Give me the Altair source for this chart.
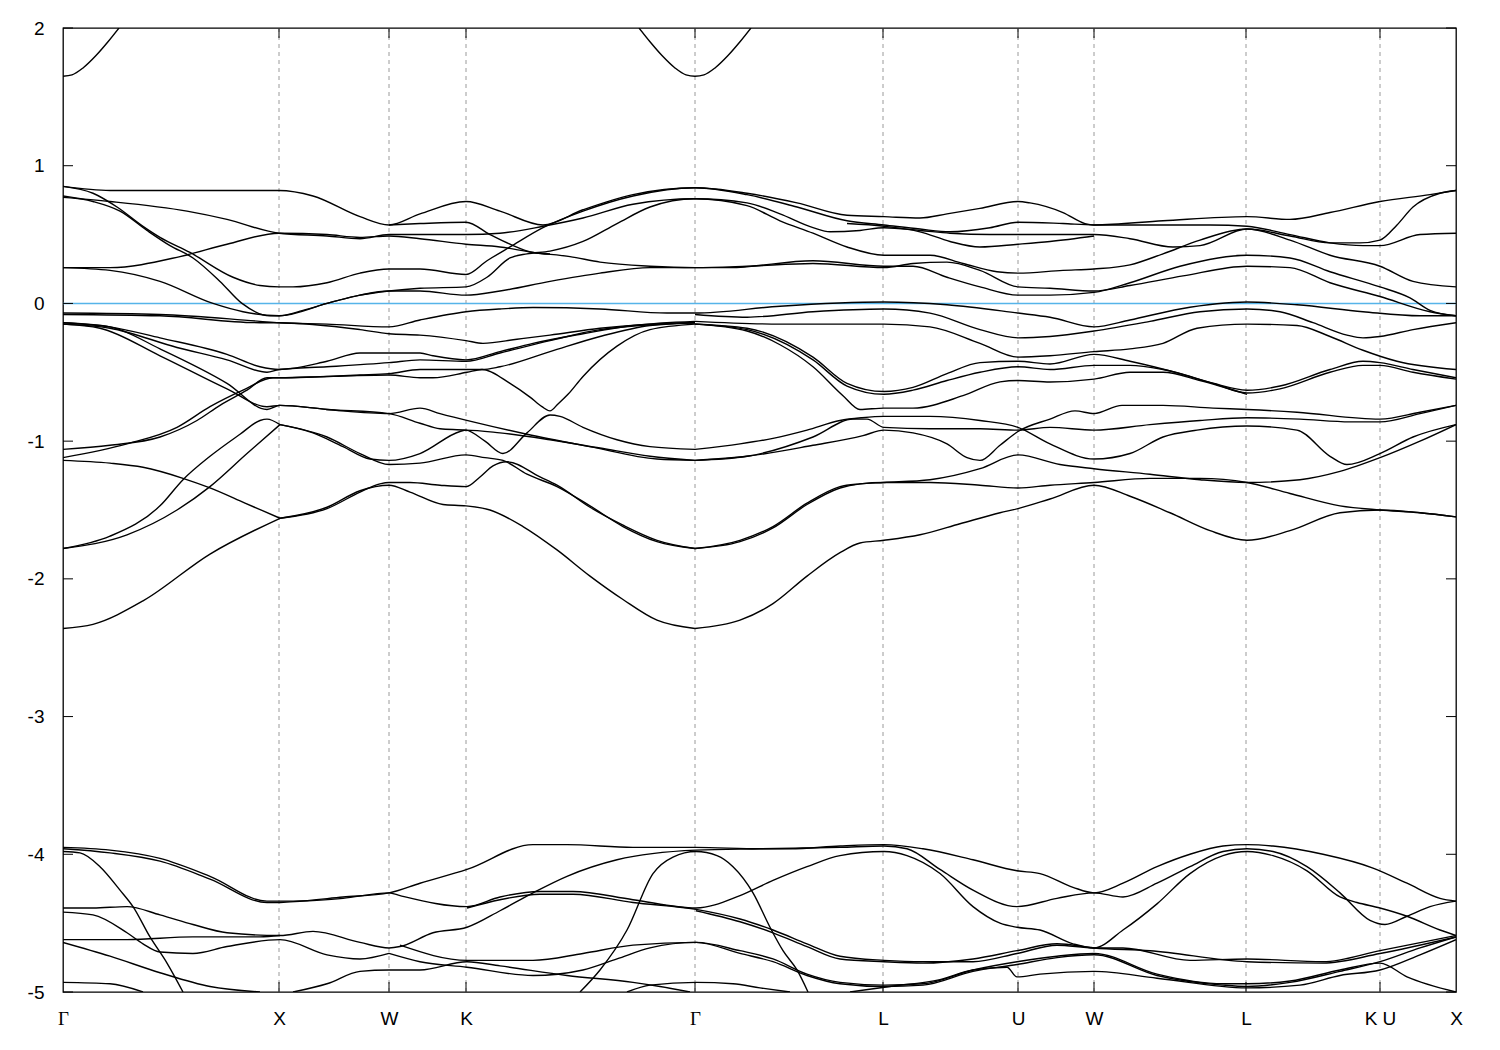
import altair as alt
import pandas as pd

# ---- high-symmetry points along the k path (path coordinate, arbitrary units) ----
tick_k = [63, 279, 389, 466, 695, 883, 1018, 1094, 1246, 1380, 1456]
tick_names = ["Γ", "X", "W", "K", "Γ", "L", "U", "W", "L", "K U", "X"]
energy_ticks = [-5, -4, -3, -2, -1, 0, 1, 2]

# ---- bands: (k, E [eV]) ----
cond_a = [(63, 1.65), (72, 1.66), (83, 1.71), (96, 1.80), (108, 1.90), (119, 2.0)]
cond_b = [(639, 2.0), (650, 1.90), (662, 1.80), (675, 1.71), (686, 1.66), (695, 1.65),
          (704, 1.66), (715, 1.71), (728, 1.80), (740, 1.90), (751, 2.0)]

u1 = [(63, 0.85), (110, 0.82), (279, 0.82), (313, 0.78), (360, 0.63), (389, 0.57), (420, 0.65),
      (466, 0.74), (500, 0.67), (543, 0.57), (583, 0.68), (633, 0.79), (695, 0.84), (747, 0.80),
      (797, 0.73), (847, 0.64), (884, 0.63), (920, 0.62), (947, 0.65), (980, 0.69), (1018, 0.74),
      (1030, 0.73), (1063, 0.66), (1085, 0.58), (1094, 0.57), (1163, 0.60), (1247, 0.63),
      (1290, 0.61), (1330, 0.66), (1380, 0.74), (1430, 0.79), (1456, 0.82)]
u2 = [(63, 0.85), (93, 0.80), (117, 0.70), (143, 0.56), (160, 0.48), (190, 0.37), (233, 0.19),
      (260, 0.13), (279, 0.12), (293, 0.12), (327, 0.15), (360, 0.22), (389, 0.25), (420, 0.25),
      (466, 0.21), (487, 0.31), (510, 0.41), (543, 0.55), (583, 0.67), (633, 0.78), (695, 0.84),
      (747, 0.79), (797, 0.70), (847, 0.60), (884, 0.57), (920, 0.54), (950, 0.52), (990, 0.55),
      (1018, 0.59), (1063, 0.58), (1094, 0.57), (1163, 0.57), (1210, 0.57), (1247, 0.56),
      (1290, 0.50), (1330, 0.44), (1363, 0.42), (1380, 0.42), (1420, 0.50), (1456, 0.51)]
u3 = [(63, 0.77), (110, 0.74), (187, 0.67), (227, 0.61), (279, 0.51), (327, 0.49), (360, 0.47),
      (389, 0.50), (420, 0.50), (466, 0.50), (500, 0.51), (543, 0.56), (583, 0.62), (633, 0.72),
      (695, 0.76), (747, 0.73), (780, 0.65), (813, 0.55), (830, 0.52), (860, 0.53), (884, 0.55),
      (920, 0.53), (950, 0.51), (990, 0.50), (1018, 0.50), (1060, 0.50), (1094, 0.50),
      (1130, 0.47), (1173, 0.41), (1200, 0.42), (1247, 0.54), (1290, 0.49), (1330, 0.44),
      (1360, 0.44), (1380, 0.46), (1397, 0.57), (1413, 0.70), (1440, 0.80), (1456, 0.82)]
u4 = [(63, 0.78), (93, 0.74), (120, 0.67), (147, 0.53), (170, 0.42), (193, 0.33), (220, 0.16),
      (242, 0.0), (270, -0.09), (279, -0.09), (303, -0.05), (327, 0.0), (360, 0.06), (389, 0.09),
      (420, 0.11), (466, 0.12), (487, 0.19), (510, 0.33), (527, 0.36), (550, 0.38), (583, 0.45),
      (617, 0.58), (650, 0.70), (695, 0.76), (747, 0.71), (780, 0.60), (813, 0.51), (847, 0.41),
      (884, 0.35), (930, 0.35), (963, 0.29), (997, 0.23), (1018, 0.22), (1063, 0.24),
      (1094, 0.25), (1130, 0.28), (1163, 0.36), (1200, 0.46), (1247, 0.54), (1290, 0.46),
      (1330, 0.35), (1380, 0.27), (1413, 0.16), (1456, 0.12)]
u5 = [(63, 0.26), (110, 0.26), (180, 0.34), (227, 0.43), (279, 0.51), (327, 0.50), (360, 0.48),
      (389, 0.49), (420, 0.47), (466, 0.43), (500, 0.41), (533, 0.37), (570, 0.34), (600, 0.30),
      (650, 0.27), (695, 0.26), (730, 0.26), (813, 0.31), (884, 0.27), (913, 0.27), (947, 0.19),
      (980, 0.12), (1018, 0.06), (1050, 0.06), (1094, 0.08), (1130, 0.15), (1180, 0.27),
      (1247, 0.35), (1290, 0.33), (1330, 0.23), (1380, 0.12), (1410, 0.04), (1430, -0.05),
      (1456, -0.09)]
u6 = [(63, 0.26), (110, 0.24), (160, 0.16), (213, 0.0), (243, -0.06), (279, -0.09), (327, 0.0),
      (360, 0.06), (389, 0.09), (420, 0.09), (466, 0.06), (500, 0.09), (550, 0.16), (600, 0.22),
      (650, 0.26), (695, 0.26), (747, 0.27), (813, 0.29), (884, 0.26), (913, 0.29), (947, 0.30),
      (980, 0.24), (1018, 0.12), (1050, 0.11), (1094, 0.09), (1130, 0.13), (1183, 0.20),
      (1247, 0.27), (1290, 0.26), (1330, 0.15), (1380, 0.05), (1430, -0.06), (1456, -0.09)]
u7 = [(389, 0.57), (420, 0.58), (466, 0.59), (490, 0.50), (510, 0.43), (533, 0.37), (550, 0.36)]
u8 = [(847, 0.58), (884, 0.56), (920, 0.52), (950, 0.45), (980, 0.41), (1018, 0.43),
      (1050, 0.45), (1094, 0.49)]

v1 = [(63, -0.07), (160, -0.08), (260, -0.13), (279, -0.14), (327, -0.15), (389, -0.17),
      (420, -0.12), (466, -0.06), (500, -0.04), (533, -0.03), (600, -0.04), (667, -0.07),
      (695, -0.07), (780, -0.02), (884, 0.01), (947, -0.01), (1018, -0.07), (1050, -0.10),
      (1094, -0.17), (1130, -0.12), (1180, -0.04), (1247, 0.01), (1297, -0.01), (1363, -0.06),
      (1420, -0.09), (1456, -0.09)]
v2 = [(63, -0.08), (160, -0.09), (260, -0.14), (279, -0.14), (360, -0.19), (389, -0.22),
      (420, -0.23), (466, -0.27), (483, -0.29), (517, -0.26), (550, -0.23), (600, -0.18),
      (650, -0.15), (695, -0.14)]
vb = [(695, -0.08), (747, -0.10), (813, -0.06), (884, -0.04), (930, -0.07), (980, -0.19),
      (1018, -0.25), (1050, -0.24), (1094, -0.20), (1150, -0.13), (1200, -0.06), (1247, -0.04),
      (1280, -0.06), (1313, -0.14), (1347, -0.23), (1363, -0.25), (1380, -0.24), (1413, -0.19),
      (1456, -0.14)]
vc = [(695, -0.13), (780, -0.15), (884, -0.15), (930, -0.17), (980, -0.29), (1018, -0.39),
      (1050, -0.38), (1094, -0.35), (1130, -0.33), (1163, -0.29), (1197, -0.18), (1247, -0.15),
      (1297, -0.16), (1330, -0.24), (1363, -0.34), (1397, -0.42), (1456, -0.48)]
vd = [(695, -0.15), (747, -0.18), (813, -0.39), (847, -0.58), (884, -0.64), (913, -0.61),
      (947, -0.51), (980, -0.43), (1018, -0.42), (1050, -0.44), (1094, -0.37), (1130, -0.42),
      (1180, -0.51), (1213, -0.58), (1247, -0.63), (1280, -0.60), (1330, -0.48), (1363, -0.42),
      (1380, -0.43), (1413, -0.48), (1456, -0.54)]
ve = [(695, -0.15), (747, -0.19), (813, -0.41), (847, -0.60), (884, -0.66), (913, -0.63),
      (947, -0.56), (980, -0.50), (1018, -0.46), (1050, -0.48), (1094, -0.45), (1130, -0.45),
      (1163, -0.48), (1213, -0.58), (1247, -0.65), (1280, -0.62), (1330, -0.50), (1363, -0.45),
      (1380, -0.45), (1413, -0.50), (1456, -0.55)]
vf = [(695, -0.15), (747, -0.20), (780, -0.30), (813, -0.46), (843, -0.67), (860, -0.77),
      (884, -0.76), (913, -0.76), (963, -0.67), (1000, -0.57), (1018, -0.56), (1050, -0.57),
      (1094, -0.55), (1130, -0.50), (1163, -0.50), (1200, -0.56), (1247, -0.66)]

d1 = [(63, -0.14), (110, -0.17), (160, -0.25), (227, -0.37), (260, -0.46), (279, -0.48),
      (327, -0.42), (360, -0.36), (389, -0.36), (420, -0.36), (433, -0.38), (466, -0.41),
      (500, -0.35), (533, -0.29), (583, -0.22), (633, -0.16), (695, -0.13)]
d2 = [(63, -0.15), (110, -0.18), (177, -0.32), (227, -0.41), (267, -0.50), (279, -0.48),
      (327, -0.46), (389, -0.43), (420, -0.41), (466, -0.42), (500, -0.36), (550, -0.27),
      (600, -0.19), (695, -0.14)]
r1 = [(63, -1.06), (110, -1.03), (160, -0.97), (197, -0.85), (220, -0.74), (247, -0.63),
      (267, -0.54), (280, -0.54), (360, -0.52), (389, -0.51), (420, -0.48), (467, -0.48),
      (482, -0.48), (500, -0.46), (550, -0.35), (600, -0.24), (650, -0.16), (695, -0.14)]
r2 = [(63, -1.12), (127, -1.02), (177, -0.90), (210, -0.75), (243, -0.63), (273, -0.54),
      (280, -0.54), (327, -0.53), (389, -0.52), (420, -0.54), (433, -0.54), (467, -0.50),
      (482, -0.48), (510, -0.58), (530, -0.68), (542, -0.75), (550, -0.78), (558, -0.73),
      (568, -0.66), (583, -0.53), (617, -0.31), (650, -0.19), (695, -0.15)]
r4 = [(63, -1.14), (110, -1.16), (143, -1.19), (183, -1.27), (210, -1.34), (245, -1.45),
      (280, -1.56)]
r5 = [(63, -1.78), (110, -1.69), (160, -1.47), (183, -1.28), (210, -1.11), (240, -0.95),
      (260, -0.85), (267, -0.84), (280, -0.88)]
r6 = [(63, -1.78), (127, -1.68), (177, -1.50), (210, -1.33), (247, -1.09), (280, -0.88)]
r7 = [(63, -2.36), (93, -2.33), (143, -2.16), (210, -1.82), (280, -1.56)]

e1 = [(63, -0.14), (110, -0.17), (160, -0.33), (227, -0.58), (267, -0.77), (280, -0.74),
      (327, -0.77), (389, -0.80), (420, -0.76), (440, -0.80), (473, -0.86), (527, -0.95),
      (590, -1.04), (657, -1.13), (695, -1.14)]
e2 = [(63, -0.15), (100, -0.18), (160, -0.38), (227, -0.62), (267, -0.75), (280, -0.74),
      (327, -0.77), (389, -0.80), (420, -0.87), (440, -0.91), (466, -0.92), (485, -1.0),
      (503, -1.09), (527, -0.94), (550, -0.81), (560, -0.82), (583, -0.90), (617, -0.99),
      (650, -1.04), (695, -1.06)]
e3 = [(280, -0.88), (313, -0.94), (343, -1.04), (370, -1.13), (389, -1.14), (420, -1.09),
      (460, -0.93), (466, -0.92), (500, -0.94), (550, -0.99), (600, -1.05), (650, -1.11),
      (695, -1.14)]
e4 = [(280, -0.88), (327, -0.97), (360, -1.09), (389, -1.17), (420, -1.16), (466, -1.10),
      (485, -1.12), (503, -1.14), (527, -1.24), (557, -1.33), (590, -1.47), (623, -1.62),
      (657, -1.73), (695, -1.78)]
e5 = [(280, -1.56), (327, -1.49), (360, -1.37), (380, -1.31), (389, -1.30), (410, -1.30),
      (440, -1.32), (466, -1.33), (480, -1.26), (493, -1.18), (507, -1.15), (540, -1.26),
      (557, -1.32), (590, -1.48), (623, -1.61), (657, -1.72), (695, -1.78)]
e6 = [(280, -1.56), (327, -1.48), (360, -1.36), (389, -1.32), (410, -1.37), (443, -1.46),
      (466, -1.47), (490, -1.50), (523, -1.62), (557, -1.79), (590, -1.98), (623, -2.15),
      (657, -2.30), (695, -2.36)]

g1 = [(695, -1.06), (740, -1.02), (773, -0.98), (807, -0.92), (840, -0.85), (862, -0.83),
      (884, -0.82), (930, -0.82), (980, -0.85), (1018, -0.90), (1050, -1.02), (1094, -1.13),
      (1130, -1.09), (1163, -0.97), (1197, -0.92), (1247, -0.89), (1297, -0.92), (1330, -1.11),
      (1347, -1.17), (1380, -1.09), (1413, -0.97), (1456, -0.88)]
g2 = [(695, -1.14), (747, -1.11), (813, -0.97), (853, -0.84), (867, -0.84), (884, -0.90),
      (930, -0.91), (980, -0.91), (1018, -0.92), (1050, -0.90), (1094, -0.92), (1150, -0.88),
      (1200, -0.85), (1247, -0.83), (1300, -0.84), (1350, -0.86), (1380, -0.86), (1420, -0.80),
      (1456, -0.74)]
g3 = [(695, -1.14), (747, -1.11), (813, -1.03), (863, -0.96), (884, -0.92), (913, -0.94),
      (947, -1.02), (967, -1.12), (980, -1.14), (1000, -1.03), (1018, -0.93), (1050, -0.84),
      (1075, -0.78), (1094, -0.80), (1122, -0.74), (1163, -0.74), (1213, -0.76), (1247, -0.77),
      (1297, -0.79), (1380, -0.84), (1420, -0.79), (1456, -0.74)]
g4 = [(695, -1.78), (740, -1.72), (773, -1.62), (807, -1.45), (840, -1.33), (860, -1.31),
      (884, -1.30), (930, -1.28), (980, -1.20), (1018, -1.10), (1060, -1.17), (1094, -1.20),
      (1150, -1.24), (1200, -1.28), (1247, -1.30), (1300, -1.28), (1340, -1.22), (1380, -1.12),
      (1420, -1.00), (1456, -0.88)]
g4b = [(695, -1.78), (740, -1.73), (773, -1.63), (807, -1.46), (840, -1.34), (860, -1.31),
       (884, -1.30), (930, -1.30), (980, -1.32), (1018, -1.34), (1050, -1.32), (1094, -1.30),
       (1150, -1.27), (1200, -1.27), (1247, -1.30), (1290, -1.38), (1340, -1.47), (1380, -1.50),
       (1420, -1.52), (1456, -1.55)]
g5 = [(695, -2.36), (740, -2.30), (773, -2.18), (807, -1.98), (840, -1.81), (860, -1.74),
      (884, -1.72), (920, -1.68), (960, -1.60), (1000, -1.52), (1018, -1.49), (1050, -1.42),
      (1094, -1.32), (1130, -1.40), (1170, -1.52), (1210, -1.65), (1247, -1.72), (1290, -1.65),
      (1340, -1.52), (1380, -1.50), (1420, -1.52), (1456, -1.55)]

# ---- semicore-like bands around -4 .. -5 eV ----
s1 = [(63, -3.95), (110, -3.97), (160, -4.03), (210, -4.16), (267, -4.34), (293, -4.34),
      (343, -4.31), (389, -4.28), (420, -4.21), (467, -4.11), (533, -3.93), (567, -3.93),
      (633, -3.95), (696, -3.95), (760, -3.96), (790, -3.96), (840, -3.94), (884, -3.93),
      (923, -3.96), (973, -4.04), (1017, -4.12), (1040, -4.14), (1073, -4.24), (1094, -4.28),
      (1123, -4.21), (1157, -4.09), (1190, -4.00), (1223, -3.94), (1247, -3.93), (1273, -3.94),
      (1323, -4.00), (1373, -4.10), (1407, -4.21), (1440, -4.32), (1456, -4.34)]
s2 = [(63, -3.96), (110, -3.99), (160, -4.05), (210, -4.18), (267, -4.35), (280, -4.35)]
s3 = [(63, -3.98), (80, -3.99), (100, -4.09), (120, -4.26), (133, -4.38), (150, -4.60),
      (167, -4.79), (183, -5.0)]
s4 = [(63, -4.39), (93, -4.39), (127, -4.38), (160, -4.44), (193, -4.51), (227, -4.57),
      (280, -4.59), (313, -4.56), (360, -4.64), (389, -4.68), (400, -4.67), (433, -4.57),
      (467, -4.53), (500, -4.41), (533, -4.28), (567, -4.16), (617, -4.04), (696, -3.97),
      (760, -3.96), (840, -3.95), (884, -3.94), (907, -3.96), (940, -4.11), (973, -4.26),
      (1017, -4.38), (1057, -4.32), (1094, -4.28), (1123, -4.31), (1157, -4.21), (1190, -4.09),
      (1223, -3.98), (1247, -3.96), (1273, -3.98), (1307, -4.09), (1340, -4.28), (1370, -4.48),
      (1385, -4.51), (1407, -4.45), (1430, -4.38), (1456, -4.34)]
s5 = [(280, -4.35), (343, -4.32), (389, -4.28), (400, -4.30), (467, -4.38), (500, -4.31),
      (540, -4.27), (573, -4.27), (633, -4.33), (696, -4.39), (740, -4.30), (773, -4.19),
      (807, -4.09), (840, -4.01), (884, -3.98), (907, -4.01), (940, -4.14), (973, -4.38),
      (1000, -4.50), (1017, -4.53), (1040, -4.55), (1073, -4.65), (1094, -4.68), (1123, -4.55),
      (1157, -4.36), (1190, -4.14), (1223, -4.01), (1247, -3.98), (1273, -4.01), (1307, -4.12),
      (1340, -4.31), (1357, -4.35), (1380, -4.39), (1407, -4.45), (1440, -4.55), (1456, -4.59)]
s6 = [(467, -4.39), (500, -4.33), (540, -4.29), (573, -4.29), (633, -4.35), (696, -4.40),
      (740, -4.47), (773, -4.55), (807, -4.65), (840, -4.74), (884, -4.77), (923, -4.78),
      (973, -4.78), (1017, -4.72), (1057, -4.66), (1094, -4.68), (1123, -4.68), (1190, -4.77),
      (1247, -4.76), (1323, -4.78), (1380, -4.70), (1456, -4.59)]
s6b = [(696, -4.41), (740, -4.49), (773, -4.57), (807, -4.67), (840, -4.76), (884, -4.78),
       (923, -4.79), (973, -4.76), (1017, -4.70), (1057, -4.65), (1094, -4.68), (1150, -4.70),
       (1247, -4.78), (1323, -4.79), (1380, -4.72), (1456, -4.60)]
s7 = [(400, -4.66), (467, -4.77), (533, -4.77), (583, -4.72), (633, -4.66), (696, -4.64),
      (740, -4.70), (773, -4.76), (807, -4.87), (840, -4.93), (884, -4.95), (923, -4.94),
      (973, -4.84), (1017, -4.78), (1057, -4.74), (1094, -4.72), (1157, -4.87), (1223, -4.94),
      (1247, -4.94), (1290, -4.92), (1340, -4.84), (1380, -4.79), (1407, -4.89), (1456, -5.0)]
s7b = [(389, -4.72), (420, -4.78), (467, -4.82), (533, -4.88), (583, -4.84), (617, -4.76),
       (650, -4.68), (696, -4.64), (740, -4.72), (773, -4.78), (807, -4.88), (840, -4.94),
       (884, -4.96), (923, -4.95), (973, -4.85), (1017, -4.80), (1057, -4.75), (1094, -4.73),
       (1157, -4.88), (1223, -4.95), (1247, -4.96), (1290, -4.93), (1340, -4.85), (1380, -4.78),
       (1420, -4.68), (1456, -4.60)]
s8 = [(63, -4.42), (93, -4.44), (127, -4.57), (143, -4.65), (160, -4.71), (193, -4.72),
      (227, -4.67), (280, -4.62), (327, -4.73), (360, -4.76), (389, -4.72)]
s9 = [(63, -4.62), (127, -4.62), (193, -4.60), (260, -4.60), (280, -4.59)]
s10 = [(63, -4.64), (110, -4.74), (160, -4.86), (210, -4.96), (260, -5.0)]
s11 = [(63, -4.93), (110, -4.94), (143, -5.0)]
s12 = [(293, -5.0), (327, -4.94), (360, -4.85), (389, -4.84), (420, -4.84), (467, -4.78),
       (500, -4.81), (567, -4.88), (633, -4.93), (660, -4.96), (690, -5.0)]
h1 = [(580, -5.0), (600, -4.84), (627, -4.55), (653, -4.14), (673, -4.02), (696, -3.98),
      (717, -4.01), (733, -4.09), (753, -4.28), (770, -4.53), (783, -4.70), (797, -4.84),
      (808, -5.0)]
h2 = [(627, -5.0), (650, -4.95), (696, -4.93), (733, -4.94), (760, -4.97), (790, -5.0)]
h3 = [(850, -5.0), (890, -4.96), (940, -4.91), (973, -4.84), (1007, -4.82), (1017, -4.89),
      (1040, -4.87), (1094, -4.85), (1157, -4.90), (1247, -4.97), (1300, -4.95), (1340, -4.88),
      (1380, -4.84), (1420, -4.73), (1456, -4.62)]

bands = [
    ("cond_a", cond_a), ("cond_b", cond_b),
    ("u1", u1), ("u2", u2), ("u3", u3), ("u4", u4), ("u5", u5), ("u6", u6), ("u7", u7), ("u8", u8),
    ("v1", v1), ("v2", v2), ("vb", vb), ("vc", vc), ("vd", vd), ("ve", ve), ("vf", vf),
    ("d1", d1), ("d2", d2), ("r1", r1), ("r2", r2), ("r4", r4), ("r5", r5), ("r6", r6), ("r7", r7),
    ("e1", e1), ("e2", e2), ("e3", e3), ("e4", e4), ("e5", e5), ("e6", e6),
    ("g1", g1), ("g2", g2), ("g3", g3), ("g4", g4), ("g4b", g4b), ("g5", g5),
    ("s1", s1), ("s2", s2), ("s3", s3), ("s4", s4), ("s5", s5), ("s6", s6), ("s6b", s6b),
    ("s7", s7), ("s7b", s7b), ("s8", s8), ("s9", s9), ("s10", s10), ("s11", s11), ("s12", s12),
    ("h1", h1), ("h2", h2), ("h3", h3),
]

rows = []
for name, pts in bands:
    for i, (k, e) in enumerate(pts):
        rows.append({"band": name, "idx": i, "k": k, "E": e})
df = pd.DataFrame(rows)

K_MIN, K_MAX = tick_k[0], tick_k[-1]
E_MIN, E_MAX = energy_ticks[0], energy_ticks[-1]
TICK_E = 10 / 137.7      # inward tick length expressed in energy units
TICK_K = 10              # inward tick length in path units

xs = alt.Scale(domain=[K_MIN, K_MAX], nice=False, zero=False)
ys = alt.Scale(domain=[E_MIN, E_MAX], nice=False, zero=False)

label_expr = " : ".join(f"datum.value == {k} ? '{n}'" for k, n in zip(tick_k, tick_names)) + " : ''"
gamma_test = " || ".join(f"datum.value == {k}" for k, n in zip(tick_k, tick_names) if n == "Γ")

x_axis = alt.Axis(values=tick_k, labelExpr=label_expr, ticks=False, domain=False, grid=False,
                  labelFontSize=19,
                  labelFont=alt.condition(gamma_test, alt.value("Liberation Serif"),
                                          alt.value("Liberation Sans")),
                  labelColor="black",
                  labelPadding=17, labelOverlap=False, labelFlush=False, title=None)
y_axis = alt.Axis(values=energy_ticks, labelExpr="'' + datum.value", ticks=False, domain=False,
                  grid=False, labelFontSize=19, labelFont="Liberation Sans", labelColor="black",
                  labelPadding=19, title=None)

X = lambda f: alt.X(f, scale=xs, axis=x_axis)
Y = lambda f: alt.Y(f, scale=ys, axis=y_axis)

inner = tick_k[1:-1]
grid_df = pd.DataFrame({"k": inner})
grid = alt.Chart(grid_df).mark_rule(color="#9a9a9a", strokeWidth=1, strokeDash=[4, 4]).encode(
    x=X("k:Q")
)

zero_df = pd.DataFrame({"E": [0]})
zero = alt.Chart(zero_df).mark_rule(color="#56B4E9", strokeWidth=1.5).encode(
    y=Y("E:Q")
)

lines = alt.Chart(df).mark_line(color="black", strokeWidth=1.4, interpolate="monotone",
                                clip=True).encode(
    x=X("k:Q"),
    y=Y("E:Q"),
    detail="band:N",
    order=alt.Order("idx:Q"),
)

xt_rows = []
for k in inner:
    xt_rows.append({"k": k, "y": E_MIN, "y2": E_MIN + TICK_E})
    xt_rows.append({"k": k, "y": E_MAX, "y2": E_MAX - TICK_E})
xticks = alt.Chart(pd.DataFrame(xt_rows)).mark_rule(color="black", strokeWidth=1).encode(
    x=X("k:Q"),
    y=Y("y:Q"),
    y2="y2:Q",
)
yt_rows = []
for e in energy_ticks:
    yt_rows.append({"E": e, "x": K_MIN, "x2": K_MIN + TICK_K})
    yt_rows.append({"E": e, "x": K_MAX, "x2": K_MAX - TICK_K})
yticks = alt.Chart(pd.DataFrame(yt_rows)).mark_rule(color="black", strokeWidth=1).encode(
    y=Y("E:Q"),
    x=X("x:Q"),
    x2="x2:Q",
)

chart = alt.layer(grid, zero, lines, xticks, yticks).properties(
    width=1393, height=964,
    padding={"left": 55, "top": 20, "right": 30, "bottom": 50},
    autosize=alt.AutoSizeParams(type="none"),
    background="white",
).configure_view(stroke="black", strokeWidth=1.3)

chart.save("out.html", embed_options={"renderer": "svg", "actions": False})
